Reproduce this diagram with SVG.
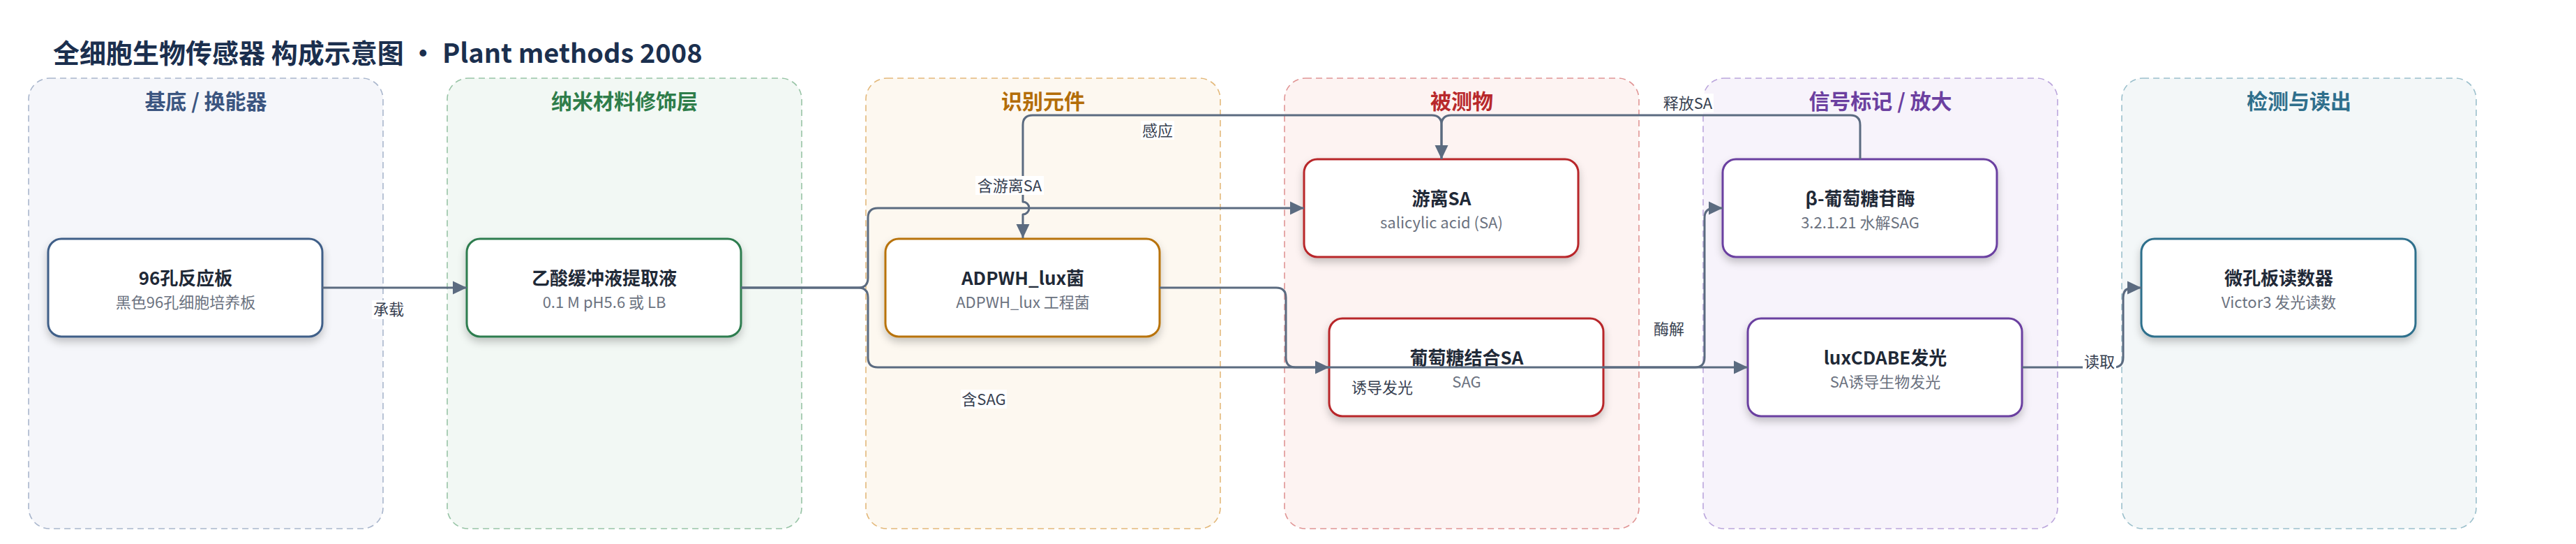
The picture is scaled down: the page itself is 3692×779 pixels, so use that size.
<svg xmlns="http://www.w3.org/2000/svg" width="3692" height="779" viewBox="0 0 3692 779">
<defs>
<style>
.lane{stroke-width:1.6;stroke-dasharray:9 6}
.lt{font-family:"Noto Sans CJK SC","Noto Sans",sans-serif;font-size:30px;font-weight:700;text-anchor:middle}
.node{fill:#fff;stroke-width:3}
.nt{font-family:"Noto Sans CJK SC","Noto Sans",sans-serif;font-size:26px;font-weight:700;fill:#1f2937;text-anchor:middle}
.ns{font-family:"Noto Sans CJK SC","Noto Sans",sans-serif;font-size:22px;fill:#6b7280;text-anchor:middle}
.edge{fill:none;stroke:#5b6b80;stroke-width:3;stroke-linejoin:round}
.el{font-family:"Noto Sans CJK SC","Noto Sans",sans-serif;font-size:22px;fill:#374151;text-anchor:middle}
.lb{fill:#fff}
</style>
<filter id="sh" x="-10%" y="-10%" width="120%" height="140%">
<feDropShadow dx="0" dy="6" stdDeviation="6" flood-color="#000" flood-opacity="0.22"/>
</filter>
<marker id="ah" markerUnits="userSpaceOnUse" markerWidth="22" markerHeight="22" viewBox="0 0 22 22" refX="21" refY="11" orient="auto">
<path d="M1,1.5 L21,11 L1,20.5 Z" fill="#5b6b80"/>
</marker>
</defs>
<rect width="3692" height="779" fill="#fff"/>
<text x="76" y="90" font-family="'Noto Sans CJK SC','Noto Sans',sans-serif" font-size="38" font-weight="700" fill="#1b2f4e">全细胞生物传感器 构成示意图 · Plant methods 2008</text>

<g id="lanes">
<g id="lane-substrate"><rect class="lane" x="41" y="112" width="508" height="645" rx="30" fill="#f5f6fa" stroke="#a9b6cc"/><text class="lt" x="295" y="156" fill="#3b5580">基底 / 换能器</text></g>
<g id="lane-nano"><rect class="lane" x="641" y="112" width="508" height="645" rx="30" fill="#f2f8f4" stroke="#98c4a6"/><text class="lt" x="895" y="156" fill="#2e7d4a">纳米材料修饰层</text></g>
<g id="lane-recog"><rect class="lane" x="1241" y="112" width="508" height="645" rx="30" fill="#fdf8f0" stroke="#e3b87a"/><text class="lt" x="1495" y="156" fill="#b36d08">识别元件</text></g>
<g id="lane-analyte"><rect class="lane" x="1841" y="112" width="508" height="645" rx="30" fill="#fdf3f2" stroke="#e09595"/><text class="lt" x="2095" y="156" fill="#b8282b">被测物</text></g>
<g id="lane-signal"><rect class="lane" x="2441" y="112" width="508" height="645" rx="30" fill="#f7f3fb" stroke="#bba6dc"/><text class="lt" x="2695" y="156" fill="#6b3fa0">信号标记 / 放大</text></g>
<g id="lane-readout"><rect class="lane" x="3041" y="112" width="508" height="645" rx="30" fill="#f3f7f8" stroke="#9cc0cc"/><text class="lt" x="3295" y="156" fill="#2f6f8c">检测与读出</text></g>
</g>

<g id="n-plate"><rect class="node" filter="url(#sh)" x="69" y="342" width="393" height="140" rx="19" stroke="#3f5f88"/><text class="nt" x="266" y="408">96孔反应板</text><text class="ns" x="266" y="441">黑色96孔细胞培养板</text></g>
<g id="n-buffer"><rect class="node" filter="url(#sh)" x="669" y="342" width="393" height="140" rx="19" stroke="#2e7d4f"/><text class="nt" x="866" y="408">乙酸缓冲液提取液</text><text class="ns" x="866" y="441">0.1 M pH5.6 或 LB</text></g>
<g id="n-adpwh"><rect class="node" filter="url(#sh)" x="1269" y="342" width="393" height="140" rx="19" stroke="#b8730a"/><text class="nt" x="1466" y="408">ADPWH_lux菌</text><text class="ns" x="1466" y="441">ADPWH_lux 工程菌</text></g>
<g id="n-freesa"><rect class="node" filter="url(#sh)" x="1869" y="228" width="393" height="140" rx="19" stroke="#b8282b"/><text class="nt" x="2066" y="294">游离SA</text><text class="ns" x="2066" y="327">salicylic acid (SA)</text></g>
<g id="n-sag"><rect class="node" filter="url(#sh)" x="1905" y="456" width="393" height="140" rx="19" stroke="#b8282b"/><text class="nt" x="2102" y="522">葡萄糖结合SA</text><text class="ns" x="2102" y="555">SAG</text></g>
<g id="n-gluc"><rect class="node" filter="url(#sh)" x="2469" y="228" width="393" height="140" rx="19" stroke="#6b3fa0"/><text class="nt" x="2666" y="294">β-葡萄糖苷酶</text><text class="ns" x="2666" y="327">3.2.1.21 水解SAG</text></g>
<g id="n-lux"><rect class="node" filter="url(#sh)" x="2505" y="456" width="393" height="140" rx="19" stroke="#6b3fa0"/><text class="nt" x="2702" y="522">luxCDABE发光</text><text class="ns" x="2702" y="555">SA诱导生物发光</text></g>
<g id="n-reader"><rect class="node" filter="url(#sh)" x="3069" y="342" width="393" height="140" rx="19" stroke="#2f6f8c"/><text class="nt" x="3266" y="408">微孔板读数器</text><text class="ns" x="3266" y="441">Victor3 发光读数</text></g>

<g id="connectors">
<path class="edge" d="M462,412 L669,412" marker-end="url(#ah)"/>
<path class="edge" d="M1062,412 L1230,412 Q1244,412 1244,398 L1244,312 Q1244,298 1258,298 L1869,298" marker-end="url(#ah)"/>
<path class="edge" d="M1062,412 L1230,412 Q1244,412 1244,426 L1244,512 Q1244,526 1258,526 L1905,526" marker-end="url(#ah)"/>
<path class="edge" d="M1662,412 L1829,412 Q1843,412 1843,426 L1843,512 Q1843,526 1857,526 L2505,526" marker-end="url(#ah)"/>
<path class="edge" d="M2066,228 L2066,179 Q2066,165 2052,165 L1480,165 Q1466,165 1466,179 L1466,289 A9,9 0 0 1 1466,307 L1466,341" marker-end="url(#ah)"/>
<path class="edge" d="M2666,228 L2666,179 Q2666,165 2652,165 L2080,165 Q2066,165 2066,179 L2066,228" marker-end="url(#ah)"/>
<path class="edge" d="M2298,526 L2429,526 Q2443,526 2443,512 L2443,312 Q2443,298 2457,298 L2469,298" marker-end="url(#ah)"/>
<path class="edge" d="M2898,526 L3029,526 Q3043,526 3043,512 L3043,426 Q3043,412 3057,412 L3069,412" marker-end="url(#ah)"/>
<rect class="lb" x="533" y="430" width="48" height="27"/><text class="el" x="557" y="451">承载</text>
<rect class="lb" x="1398" y="252" width="98" height="27"/><text class="el" x="1447" y="274">含游离SA</text>
<rect class="lb" x="1377" y="558" width="66" height="27"/><text class="el" x="1410" y="580">含SAG</text>
<rect class="lb" x="1935" y="541" width="92" height="27"/><text class="el" x="1981" y="563">诱导发光</text>
<rect class="lb" x="1635" y="173" width="48" height="27"/><text class="el" x="1659" y="195">感应</text>
<rect class="lb" x="2382" y="134" width="74" height="27"/><text class="el" x="2419" y="156">释放SA</text>
<rect class="lb" x="2368" y="457" width="48" height="27"/><text class="el" x="2392" y="479">酶解</text>
<rect class="lb" x="2985" y="504" width="48" height="27"/><text class="el" x="3009" y="526">读取</text>
</g>
</svg>
